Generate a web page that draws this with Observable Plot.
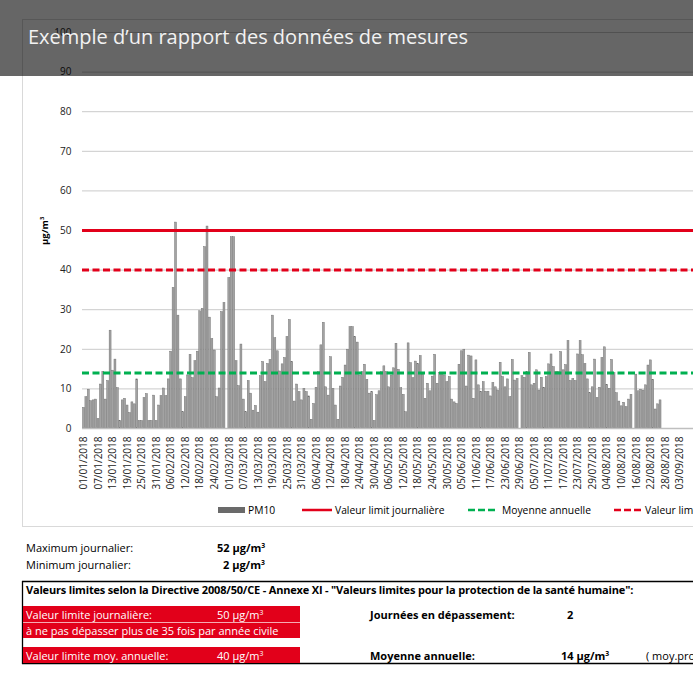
<!DOCTYPE html>
<html>
<head>
<meta charset="utf-8">
<script src="https://cdn.jsdelivr.net/npm/d3@7"></script>
<script src="https://cdn.jsdelivr.net/npm/@observablehq/plot@0.6"></script>
<style>
html,body{margin:0;padding:0;}
body{width:693px;height:693px;overflow:hidden;position:relative;background:#fff;font-family:"Open Sans",sans-serif;color:#000;}
.t{position:absolute;white-space:nowrap;line-height:1;}
.t sup{font-size:0.62em;vertical-align:0;position:relative;top:-0.62em;line-height:0;}
#frame{position:absolute;left:22px;top:19px;width:720px;height:508px;border:1px solid #d9d9d9;box-sizing:border-box;}
#chart{position:absolute;left:0;top:0;}
#banner{position:absolute;left:0;top:0;width:693px;height:76px;background:rgba(0,0,0,0.6);}
.box{position:absolute;background:#e2001a;}
#deco{position:absolute;left:0;top:0;}
</style>
</head>
<body>
<div id="frame"></div>
<div id="chart"></div>
<svg id="deco" width="693" height="693"></svg>
<div class="box" style="left:23px;top:606px;width:277px;height:16px;"></div>
<div class="box" style="left:23px;top:622.5px;width:277px;height:15.5px;"></div>
<div class="box" style="left:23px;top:647px;width:277px;height:16px;"></div>
<div id="banner"></div>
<script>
// ---- data ----
const pm10 = [
  5.2, 7.9, 9.8, 6.9, 7.1, 7.3, 2.4, 11.1, 14.3, 7.3, 12.0, 24.7, 14.6, 17.4, 10.2, 1.9, 7.1, 7.5, 5.8, 3.9,
  6.6, 6.1, 12.4, 1.9, 1.9, 7.7, 8.7, 1.9, 1.9, 8.3, 1.9, 5.8, 8.2, 10.1, 8.2, 12.4, 19.4, 35.5, 52.0, 28.5,
  12.4, 4.1, 7.9, 13.4, 18.6, 12.7, 17.0, 19.4, 29.6, 30.2, 45.8, 51.0, 28.0, 22.6, 19.7, 7.9, 10.1, 29.4, 31.7, null,
  38.0, 48.3, 48.3, 17.0, 10.7, 21.2, 7.3, 4.1, 12.0, 8.8, 4.5, 5.7, 4.0, 13.2, 16.8, 11.7, 16.3, 17.3, 28.5, 22.8,
  19.5, 14.4, 16.2, 17.8, 23.1, 27.4, 16.8, 6.8, 11.1, 9.2, 7.1, 10.0, 9.2, 8.1, 2.2, 6.2, 10.3, 14.2, 21.0, 26.7,
  10.4, 8.3, 18.0, 10.0, 5.8, 2.2, 10.6, 12.8, 15.9, 19.9, 25.6, 25.6, 23.1, 21.7, 13.4, 14.2, 16.1, 12.3, 8.8, 9.2,
  1.9, 8.4, 9.4, 14.2, 15.7, 14.2, 10.4, 13.4, 15.2, 21.4, 14.8, 10.2, 8.5, 4.1, 21.5, 16.5, 12.7, 16.9, 16.3, 18.3,
  13.6, 7.5, 11.3, 9.4, 13.1, 18.6, 11.3, 14.0, 14.0, 13.4, 11.7, 13.0, 7.3, 6.6, 6.2, 16.1, 19.5, 19.9, 10.6, 18.4,
  18.2, 7.5, 17.2, 10.9, 9.3, 11.7, 9.3, 9.3, 8.1, 11.5, 10.4, 9.6, 16.6, 13.0, 10.4, 12.4, 7.9, 17.3, 12.1, 12.5,
  null, 13.2, 12.8, 14.2, 19.1, 10.9, 11.3, 14.7, 9.6, 12.8, 10.3, 13.0, 16.2, 18.7, 15.5, 14.2, 14.2, 19.3, 14.7, 16.0,
  22.1, 12.0, 12.5, 12.0, 18.7, 22.1, 18.5, 16.3, 12.4, 8.9, 10.4, 17.4, 7.7, 10.3, 17.8, 20.5, 11.0, 10.0, 17.3, 14.0,
  8.9, 6.8, 5.6, 6.5, 5.4, 7.3, 8.5, null, 13.6, 9.4, 9.8, 9.6, 10.9, 15.9, 17.2, 12.3, 4.8, 6.1, 7.1
];
const tickLabels = [
  "01/01/2018","07/01/2018","13/01/2018","19/01/2018","25/01/2018","31/01/2018","06/02/2018","12/02/2018",
  "18/02/2018","24/02/2018","01/03/2018","07/03/2018","13/03/2018","19/03/2018","25/03/2018","31/03/2018",
  "06/04/2018","12/04/2018","18/04/2018","24/04/2018","30/04/2018","06/05/2018","12/05/2018","18/05/2018",
  "24/05/2018","30/05/2018","05/06/2018","11/06/2018","17/06/2018","23/06/2018","29/06/2018","05/07/2018",
  "11/07/2018","17/07/2018","23/07/2018","29/07/2018","04/08/2018","10/08/2018","16/08/2018","22/08/2018",
  "28/08/2018","03/09/2018"
];
const yTicks = [0, 10, 20, 30, 40, 50, 60, 70, 80, 90, 100];
const limitDaily = 50;
const limitAnnual = 40;
const annualMean = 14;
const legendLabels = ["PM10", "Valeur limit journalière", "Moyenne annuelle", "Valeur limite moy. annuelle"];

// ---- chart ----
const nCat = 252;        // category slots shown on the axis (cut at the right edge)
const tickEvery = 6;
const bars = pm10.map((v, i) => ({i, v})).filter(d => d.v != null);
const tickValues = tickLabels.map((_, k) => k * tickEvery);

const chart = Plot.plot({
  width: 693, height: 495,
  marginLeft: 82, marginRight: 0, marginTop: 32, marginBottom: 67,
  style: {fontFamily: "Open Sans", fontSize: "10px", color: "#222", background: "transparent", overflow: "visible"},
  x: {type: "band", domain: d3.range(nCat), padding: 0.2, ticks: tickValues,
      tickFormat: i => tickLabels[i / tickEvery], tickRotate: -90, tickSize: 0, tickPadding: 8, label: null},
  y: {domain: [0, 100], ticks: yTicks, tickSize: 0, tickPadding: 11, label: null},
  marks: [
    Plot.ruleY(yTicks.filter(v => v > 0), {stroke: "#cacaca", strokeWidth: 1}),
    Plot.barY(bars, {x: "i", y: "v", fill: "#a3a3a3", stroke: "#6e6e6e", strokeWidth: 0.45}),
    Plot.ruleY([0], {stroke: "#bfbfbf", strokeWidth: 1.5}),
    Plot.ruleY([annualMean], {stroke: "#00b050", strokeWidth: 3, strokeDasharray: "7,3.5"}),
    Plot.ruleY([limitAnnual], {stroke: "#e2001a", strokeWidth: 3, strokeDasharray: "7,3.5"}),
    Plot.ruleY([limitDaily], {stroke: "#e2001a", strokeWidth: 3})
  ]
});
document.getElementById("chart").appendChild(chart);

// ---- texts (positioned by baseline) ----
function txt(x, baseline, html, size, extra) {
  const d = document.createElement("div");
  d.className = "t";
  d.innerHTML = html;
  d.style.left = x + "px";
  d.style.top = (baseline - 0.888 * size) + "px";
  d.style.fontSize = size + "px";
  Object.assign(d.style, extra || {});
  document.body.appendChild(d);
  return d;
}
const U = " µg/m<sup>3</sup>";

// banner title (drawn above the banner)
txt(28, 44.5, "Exemple d’un rapport des données de mesures", 20, {color: "#f2f2f2", zIndex: 5});

// y label
const yl = txt(0, 0, "µg/m<sup>3</sup>", 9.5, {fontWeight: "bold", transformOrigin: "0 0"});
yl.style.left = "40px"; yl.style.top = "245px"; yl.style.transform = "rotate(-90deg)";

// legend
const deco = d3.select("#deco");
deco.append("rect").attr("x", 218).attr("y", 507).attr("width", 27).attr("height", 6).attr("fill", "#6a6a6a");
txt(248, 514, legendLabels[0], 10.3);
deco.append("line").attr("x1", 302).attr("x2", 332).attr("y1", 510).attr("y2", 510).attr("stroke", "#e2001a").attr("stroke-width", 2.5);
txt(335, 514, legendLabels[1], 10.3);
deco.append("line").attr("x1", 468).attr("x2", 495).attr("y1", 510).attr("y2", 510).attr("stroke", "#00b050").attr("stroke-width", 2.5).attr("stroke-dasharray", "7,3");
txt(502, 514, legendLabels[2], 10.3);
deco.append("line").attr("x1", 614).attr("x2", 641).attr("y1", 510).attr("y2", 510).attr("stroke", "#e2001a").attr("stroke-width", 2.5).attr("stroke-dasharray", "7,3");
txt(645, 514, legendLabels[3], 10.3);

// stats
const maxV = d3.max(pm10), minV = d3.min(pm10);
txt(26, 552, "Maximum journalier:", 11);
txt(217, 552, Math.round(maxV) + U, 11, {fontWeight: "bold"});
txt(26, 569, "Minimum journalier:", 11);
txt(223, 569, Math.round(minV) + U, 11, {fontWeight: "bold"});

// table lines
deco.append("line").attr("x1", 22).attr("x2", 693).attr("y1", 581.5).attr("y2", 581.5).attr("stroke", "#000").attr("stroke-width", 1.3);
deco.append("line").attr("x1", 22.5).attr("x2", 22.5).attr("y1", 581).attr("y2", 664).attr("stroke", "#000").attr("stroke-width", 1.3);
deco.append("line").attr("x1", 22).attr("x2", 693).attr("y1", 663.5).attr("y2", 663.5).attr("stroke", "#000").attr("stroke-width", 1.3);
deco.append("line").attr("x1", 23).attr("x2", 300).attr("y1", 622.5).attr("y2", 622.5).attr("stroke", "#f07080").attr("stroke-width", 0.6);

txt(26, 593.5, "Valeurs limites selon la Directive 2008/50/CE - Annexe XI - \"Valeurs limites pour la protection de la santé humaine\":", 11, {fontWeight: "bold", letterSpacing: "-0.18px"});
txt(26, 619, "Valeur limite journalière:", 11, {color: "#fff"});
txt(217, 619, limitDaily + U, 11, {color: "#fff"});
txt(26, 635, "à ne pas dépasser plus de 35 fois par année civile", 11, {color: "#fff"});
txt(26, 660, "Valeur limite moy. annuelle:", 11, {color: "#fff"});
txt(217, 660, limitAnnual + U, 11, {color: "#fff"});

const exceed = pm10.filter(v => v != null && v > limitDaily).length;
txt(370, 619, "Journées en dépassement:", 11, {fontWeight: "bold"});
txt(567, 619, String(exceed), 11, {fontWeight: "bold"});
txt(370, 660, "Moyenne annuelle:", 11, {fontWeight: "bold"});
txt(561, 660, annualMean + U, 11, {fontWeight: "bold"});
txt(646, 660, "( moy.provisoire )", 11);
</script>
</body>
</html>
